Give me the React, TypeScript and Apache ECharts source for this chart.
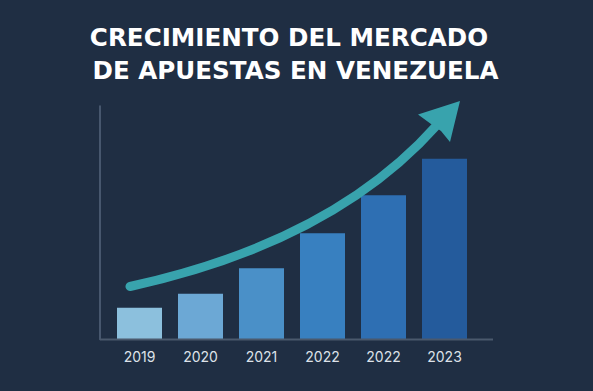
import React, { useEffect, useRef } from "react";
import * as echarts from "echarts";

const categories = ["2019", "2020", "2021", "2022", "2022", "2023"];
const values = [13.6, 19.6, 30.5, 45.5, 61.8, 77.4];
const barColors = ["#8cc0dd", "#6ca8d5", "#4a90c8", "#3880c0", "#2e6fb3", "#245b9c"];
const titleLines = ["CRECIMIENTO DEL MERCADO", "DE APUESTAS EN VENEZUELA"];

export default function App() {
  const ref = useRef<HTMLDivElement>(null);
  useEffect(() => {
    if (!ref.current) return;
    const chart = echarts.init(ref.current, null, { renderer: "svg" });
    const teal = "#38a3ad";
    const tStyle = { color: "#ffffff", fontFamily: "DejaVu Sans", fontWeight: 700, fontSize: 24.6 };
    chart.setOption({
      animation: false,
      backgroundColor: "#1f2e43",
      title: [
        { text: titleLines[0], left: 284, top: 20, textAlign: "center", textStyle: tStyle },
        { text: titleLines[1], left: 290.5, top: 53, textAlign: "center", textStyle: tStyle },
      ],
      grid: { left: 109, right: 118, top: 106, bottom: 51.5, containLabel: false },
      xAxis: {
        type: "category",
        data: categories,
        axisLine: { show: false },
        axisTick: { show: false },
        axisLabel: { color: "#dde2e9", fontSize: 14, fontFamily: "Inter", margin: 10 },
      },
      yAxis: {
        type: "value",
        min: 0,
        max: 100,
        offset: 9,
        axisLine: { show: true, lineStyle: { color: "#56667c", width: 1.5 } },
        axisTick: { show: false },
        axisLabel: { show: false },
        splitLine: { show: false },
      },
      series: [
        {
          type: "bar",
          barWidth: 45,
          data: values.map((v, i) => ({ value: v, itemStyle: { color: barColors[i] } })),
        },
      ],
      graphic: [
        {
          type: "line",
          z: 10,
          shape: { x1: 100, y1: 339.5, x2: 493, y2: 339.5 },
          style: { stroke: "#4a596d", lineWidth: 2 },
        },
        {
          type: "bezierCurve",
          z: 20,
          shape: { x1: 130, y1: 286.5, cpx1: 333, cpy1: 242, x2: 437, y2: 125 },
          style: { stroke: teal, lineWidth: 9, lineCap: "round", fill: null },
        },
        {
          type: "polygon",
          z: 21,
          shape: { points: [[460, 101], [418, 114.5], [431, 124], [441, 131], [450, 142]] },
          style: { fill: teal },
        },
      ],
    });
    return () => chart.dispose();
  }, []);
  return (
    <div
      ref={ref}
      style={{ position: "fixed", left: 0, top: 0, width: 593, height: 391 }}
    />
  );
}
